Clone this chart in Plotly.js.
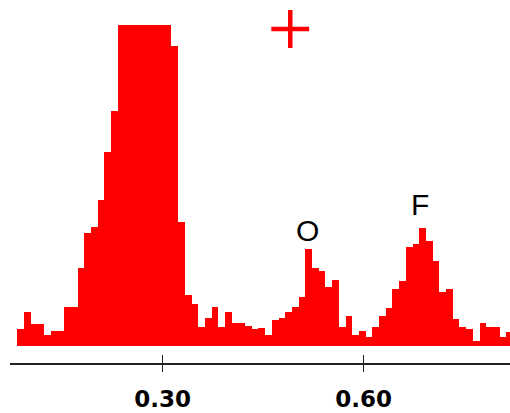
<!DOCTYPE html>
<html>
<head>
<meta charset="utf-8">
<script src="https://cdn.plot.ly/plotly-3.0.1.min.js"></script>
<style>html,body{margin:0;padding:0;background:#fff;}#chart{width:510px;height:413px;}</style>
</head>
<body>
<div id="chart"></div>
<script>
// Energy bin centres (keV)
const energies = [
  0.088,0.098,0.108,0.118,0.128,0.138,0.148,0.158,0.168,0.178,
  0.188,0.198,0.208,0.218,0.228,0.238,0.248,0.258,0.268,0.278,
  0.288,0.298,0.308,0.318,0.328,0.338,0.348,0.358,0.368,0.378,
  0.388,0.398,0.408,0.418,0.428,0.438,0.448,0.458,0.468,0.478,
  0.488,0.498,0.508,0.518,0.528,0.538,0.548,0.558,0.568,0.578,
  0.588,0.598,0.608,0.618,0.628,0.638,0.648,0.658,0.668,0.678,
  0.688,0.698,0.708,0.718,0.728,0.738,0.748,0.758,0.768,0.778,
  0.788,0.798,0.808,0.818
];
// Counts per bin
const counts = [
  17,34,22,22,11,15,15,39,39,78,
  113,119,146,194,235,340,365,385,400,410,
  395,370,345,300,124,51,42,19,28,39,
  19,34,23,23,20,17,18.5,11,26.5,28.5,
  34,39,49,97,78,75,59,66.5,19,30,
  11,15,9,19,30,38,57,65,99,102,
  118.5,105,85,54,57,27,19,17,5,23,
  19,19,9,14.5
];
const tickVals = [0.30, 0.60];
const tickText = ['0.30', '0.60'];
const peakLabels = ['O', 'F'];
const peakX = [0.5154, 0.6841];
const peakY = [116, 142];
const cursorX = [0.4904];
const cursorY = [317];

const xRange = [0.0721, 0.8184];
const yRange = [-17, 321];

const traces = [
  {
    type: 'bar', x: energies, y: counts, width: 0.01,
    marker: {color: '#ff0000', line: {width: 0}},
    hoverinfo: 'skip'
  },
  {
    type: 'scatter', mode: 'markers', x: cursorX, y: cursorY,
    cliponaxis: false,
    marker: {symbol: 'cross-thin', size: 27, color: '#ff0000', line: {color: '#ff0000', width: 4.5}},
    hoverinfo: 'skip'
  },
  {
    type: 'scatter', mode: 'markers', x: tickVals, y: [0, 0], xaxis: 'x2',
    marker: {opacity: 0}, hoverinfo: 'skip'
  }
];

const layout = {
  width: 510, height: 413,
  margin: {l: 10, r: 0, t: 25, b: 50},
  paper_bgcolor: '#ffffff', plot_bgcolor: '#ffffff',
  showlegend: false,
  bargap: 0,
  xaxis: {
    range: xRange, showgrid: false, zeroline: false,
    showline: true, linecolor: '#222', linewidth: 1.5,
    ticks: 'outside', ticklen: 7, tickwidth: 1.5, tickcolor: '#222',
    tickvals: tickVals, ticktext: tickText,
    tickfont: {family: 'DejaVu Sans', size: 23, color: '#000', weight: 'bold'},
    ticklabelstandoff: 8
  },
  xaxis2: {
    range: xRange, overlaying: 'x', anchor: 'y', side: 'bottom',
    showgrid: false, zeroline: false, showline: false,
    ticks: 'inside', ticklen: 8, tickwidth: 1.5, tickcolor: '#222',
    tickvals: tickVals, showticklabels: false
  },
  yaxis: {range: yRange, visible: false, showgrid: false, zeroline: false},
  annotations: peakLabels.map((t, i) => ({
    x: peakX[i], y: peakY[i], xref: 'x', yref: 'y', text: t, showarrow: false,
    font: {family: 'Liberation Sans', size: 30, color: '#000'},
    xanchor: 'center', yanchor: 'middle'
  }))
};

Plotly.newPlot('chart', traces, layout, {displayModeBar: false, staticPlot: true});
</script>
</body>
</html>
